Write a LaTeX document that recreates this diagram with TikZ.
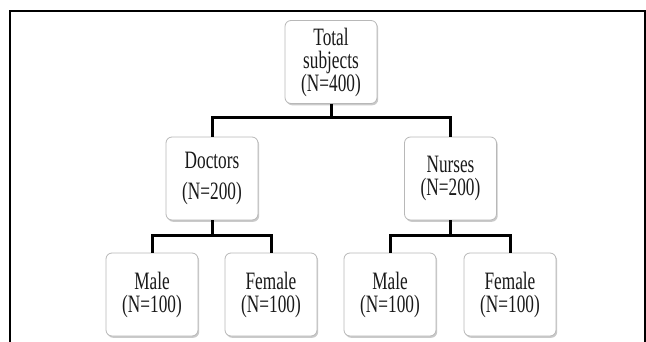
\documentclass[tikz,border=0pt]{standalone}
\usepackage{fontspec}
\setmainfont[FakeStretch=0.69]{Liberation Serif}
\usetikzlibrary{shadows}
\tikzset{
  boxnode/.style={draw=black!28, line width=0.8pt, fill=white, rounded corners=6pt,
    minimum width=92pt, minimum height=83pt, inner sep=2pt, align=center,
    font=\fontsize{25}{23}\selectfont, text=black!90,
    drop shadow={shadow xshift=1.2pt, shadow yshift=-1.8pt, opacity=0.35, fill=black!60}},
  conn/.style={line width=3pt, black, line join=miter},
  frameline/.style={line width=2pt, black}
}
\begin{document}
\begin{tikzpicture}[x=1pt, y=-1pt]
\useasboundingbox (0,0) rectangle (646,342);
\coordinate (fa) at (10,342);
\coordinate (fb) at (10,11);
\coordinate (fc) at (645,11);
\coordinate (fd) at (645,342);
\draw[frameline] (fa) -- (fb) -- (fc) -- (fd);
\node[boxnode] (top) at (331,62) {Total\\subjects\\(N=400)};
\node[boxnode] (doc) at (212,178.5) {Doctors\\[8pt](N=200)};
\node[boxnode] (nur) at (450.5,178.5) {Nurses\\(N=200)};
\node[boxnode] (m1) at (152,294.5) {Male\\(N=100)};
\node[boxnode] (f1) at (271,294.5) {Female\\(N=100)};
\node[boxnode] (m2) at (390,294.5) {Male\\(N=100)};
\node[boxnode] (f2) at (510,294.5) {Female\\(N=100)};
\coordinate (j0) at (331,118);
\coordinate (j1) at (212,236);
\coordinate (j2) at (450.5,236);
\draw[conn] (top.south) -- (j0);
\draw[conn] (j0) -| (doc.north);
\draw[conn] (j0) -| (nur.north);
\draw[conn] (doc.south) -- (j1);
\draw[conn] (j1) -| (m1.north);
\draw[conn] (j1) -| (f1.north);
\draw[conn] (nur.south) -- (j2);
\draw[conn] (j2) -| (m2.north);
\draw[conn] (j2) -| (f2.north);
\end{tikzpicture}
\end{document}
